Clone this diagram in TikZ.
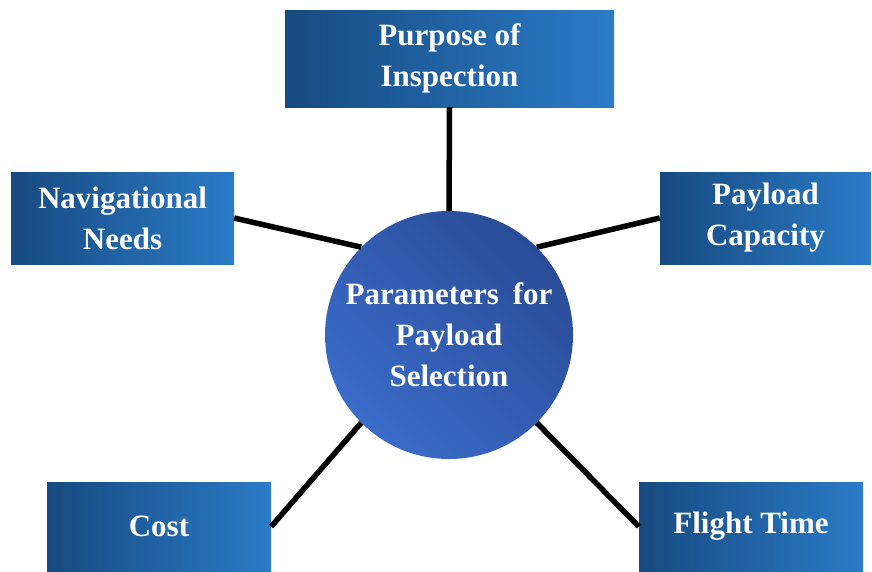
\documentclass[tikz,border=0pt]{standalone}
\usepackage{fontspec}
\setmainfont{Liberation Serif}
\usetikzlibrary{shadings}
\definecolor{boxdark}{HTML}{174A80}
\definecolor{boxlight}{HTML}{2B7BC7}
\definecolor{circlight}{HTML}{3A6CC8}
\definecolor{circdark}{HTML}{2A4C98}
\begin{document}
\begin{tikzpicture}[x=1pt,y=-1pt,
  lbl/.style={text=white,font=\fontsize{31}{41}\selectfont\bfseries,align=center},
  parambox/.style={lbl,rectangle,inner sep=0pt,left color=boxdark,right color=boxlight,draw=none},
  hub/.style={lbl,circle,inner sep=0pt,minimum size=248pt,left color=circlight,right color=circdark,shading angle=135},
  link/.style={line width=5.5pt,black}]
\useasboundingbox (0,0) rectangle (872,571);
\node[hub] (c) at (449,335) {Parameters\hspace{0.45em}for\\Payload\\Selection};
\node[parambox,minimum width=329pt,minimum height=97pt] (pur) at (449.5,58.5) {Purpose of\\Inspection};
\node[parambox,minimum width=223pt,minimum height=92pt] (nav) at (122.5,218) {Navigational\\Needs};
\node[parambox,minimum width=211pt,minimum height=92pt] (pay) at (765.5,218) {Payload\\Capacity};
\node[parambox,minimum width=224pt,minimum height=89pt] (cost) at (159,526.5) {Cost};
\node[parambox,minimum width=224pt,minimum height=89pt] (ft) at (751,526.5) {Flight Time};
\draw[link] (pur.south) -- (c.north);
\draw[link] (nav.east) -- (c.135);
\draw[link] (pay.west) -- (c.45);
\draw[link] (cost.east) -- (c.225);
\draw[link] (ft.west) -- (c.315);
\end{tikzpicture}
\end{document}
